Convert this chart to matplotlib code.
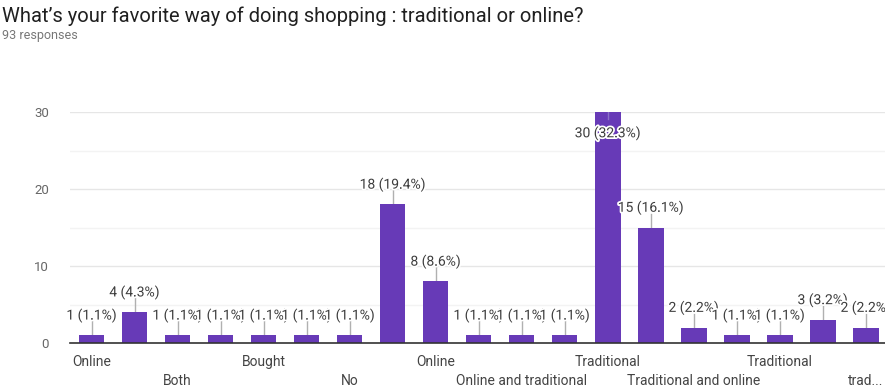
import matplotlib
matplotlib.use("Agg")
import matplotlib.pyplot as plt
import matplotlib.patheffects as pe
import numpy as np

plt.rcParams['font.family'] = ['Roboto', 'DejaVu Sans']

# answers as they appear on the axis (only every other label is shown)
categories = ['Online', '', 'Both', '', 'Bought', '', 'No', '', 'Online', '',
              'Online and traditional', '', 'Traditional', '', 'Traditional and online', '',
              'Traditional', '', 'trad...']
counts = [1, 4, 1, 1, 1, 1, 1, 18, 8, 1, 1, 1, 30, 15, 2, 1, 1, 3, 2]
total = 93
yticks = [0, 10, 20, 30]

purple = '#673ab7'
textc = '#3c3c3c'

fig = plt.figure(figsize=(8.85, 3.92), dpi=100)
ax = fig.add_axes([70 / 885, 49 / 392, 815 / 885, 231 / 392])

x = np.arange(len(counts))
ax.bar(x, counts, width=0.6, color=purple, zorder=3)

ax.set_xlim(-0.5, 18.45)
ax.set_ylim(0, 30)
ax.set_yticks(yticks)
ax.set_yticks([5, 15, 25], minor=True)
ax.tick_params(axis='y', which='both', length=0, pad=15, labelsize=9.5, labelcolor='#666666')
ax.tick_params(axis='x', length=0)
ax.set_xticks([])
ax.grid(axis='y', which='major', color='#e6e6e6', lw=1, zorder=0)
ax.grid(axis='y', which='minor', color='#f3f3f3', lw=1, zorder=0)
for s in ['top', 'right', 'left']:
    ax.spines[s].set_visible(False)
ax.spines['bottom'].set_color('#333333')
ax.spines['bottom'].set_linewidth(1.2)
ax.spines['bottom'].set_zorder(4)

halo = [pe.withStroke(linewidth=2.5, foreground='white')]
px = 30 / 231  # data units per pixel
for i, v in enumerate(counts):
    pct = v / total * 100
    label = f'{v} ({pct:.1f}%)'
    if v >= 30:
        ty = v - 21 * px
        ax.plot([i, i], [v - 7 * px, v], color='#8a70c8', lw=1, zorder=4)
    else:
        ty = v + 20 * px
        ax.plot([i, i], [v, v + 14 * px], color='#b0b0b0', lw=1, zorder=2)
    ax.text(i, ty, label, ha='center', va='center', fontsize=10, color=textc,
            path_effects=halo, zorder=5, clip_on=False)

tr = ax.get_xaxis_transform()
for i, lab in enumerate(categories):
    if not lab:
        continue
    off = -19 if (i // 2) % 2 == 0 else -38
    ax.annotate(lab, xy=(i, 0), xycoords=tr, xytext=(0, off), textcoords='offset pixels',
                ha='center', va='center', fontsize=10, color='#444444')

fig.text(2 / 885, 1 - 16 / 392, "What\u2019s your favorite way of doing shopping : traditional or online?",
         fontsize=14.5, color='#202020', va='center', ha='left')
fig.text(2 / 885, 1 - 35 / 392, '93 responses', fontsize=9, color='#777777', va='center', ha='left')

fig.savefig('out.png', dpi=100)
